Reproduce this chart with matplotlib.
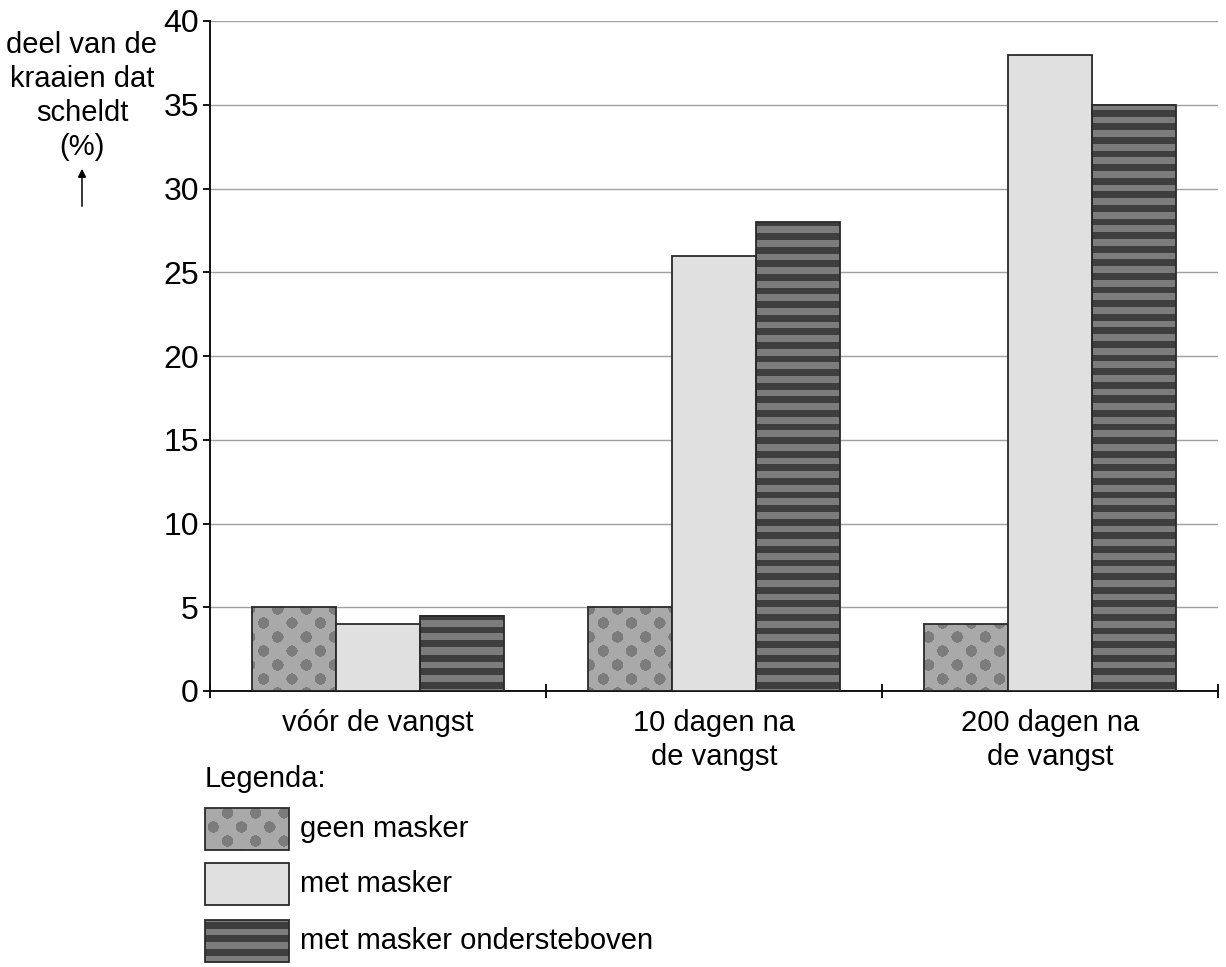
import numpy as np
import matplotlib
matplotlib.use("Agg")
import matplotlib.pyplot as plt
from matplotlib.patches import Rectangle, FancyArrowPatch

# ---------------- data ----------------
categories = ["vóór de vangst", "10 dagen na\nde vangst", "200 dagen na\nde vangst"]
series_names = ["geen masker", "met masker", "met masker ondersteboven"]
geen_masker = [5, 5, 4]
met_masker = [4, 26, 38]
ondersteboven = [4.5, 28, 35]
yticks = [0, 5, 10, 15, 20, 25, 30, 35, 40]
ylabel_text = "deel van de\nkraaien dat\nscheldt\n(%)"
legend_title = "Legenda:"

plt.rcParams['font.family'] = ['Liberation Sans', 'DejaVu Sans']

W, H, DPI = 1226, 967, 100
FS = 21
fig = plt.figure(figsize=(W / DPI, H / DPI), dpi=DPI)
ax = fig.add_axes([210 / W, 1 - 691 / H, (1218 - 210) / W, (691 - 21) / H])

ax.set_xlim(0, 3)
ax.set_ylim(0, 40)

EDGE = "#2a2a2a"
LIGHT = "#e0e0e0"
DOT_BG = np.array([0xa9, 0xa9, 0xa9]) / 255
DOT_FG = np.array([0x7c, 0x7c, 0x7c]) / 255
STR_D = np.array([0x3e, 0x3e, 0x3e]) / 255
STR_L = np.array([0x7c, 0x7c, 0x7c]) / 255


def dot_pattern(x0, y0, w, h):
    """pattern in global pixel coordinates (y from top)"""
    ys, xs = np.mgrid[y0:y0 + h, x0:x0 + w] + 0.5
    img = np.empty((h, w, 3))
    img[:] = DOT_BG
    sp = 28.3
    rs = 14.0
    row = np.floor((ys - 7) / rs + 0.5)
    cy = row * rs + 7
    off = np.where(row % 2 == 0, 0.0, sp / 2)
    cx = np.floor((xs - 9 - off) / sp + 0.5) * sp + 9 + off
    d = np.hypot(xs - cx, ys - cy)
    img[d <= 5.7] = DOT_FG
    return img


def stripe_pattern(x0, y0, w, h):
    ys = (np.arange(y0, y0 + h) + 0.5)
    period = 13.6
    ph = ((ys - 2) % period) < period / 2
    img = np.empty((h, w, 3))
    img[ph] = STR_D
    img[~ph] = STR_L
    return img


def pattern_bars(xs, vals, width, func):
    fig.canvas.draw()
    for x, v in zip(xs, vals):
        (px0, py0) = ax.transData.transform((x - width / 2, v))
        (px1, py1) = ax.transData.transform((x + width / 2, 0))
        gx0, gx1 = int(round(px0)), int(round(px1))
        gy0, gy1 = int(round(H - py0)), int(round(H - py1))
        img = func(gx0, gy0, max(gx1 - gx0, 1), max(gy1 - gy0, 1))
        ax.imshow(img, extent=(x - width / 2, x + width / 2, 0, v),
                  aspect='auto', interpolation='nearest', zorder=2)
    ax.set_xlim(0, 3)
    ax.set_ylim(0, 40)


centers = np.arange(len(categories)) + 0.5
bw = 0.25
x1 = centers - bw
x2 = centers
x3 = centers + bw

# grid
ax.set_yticks(yticks)
ax.yaxis.grid(True, color="#a0a0a0", linewidth=1.0, zorder=0)
ax.set_axisbelow(True)

pattern_bars(x1, geen_masker, bw, dot_pattern)
pattern_bars(x3, ondersteboven, bw, stripe_pattern)
ax.bar(x1, geen_masker, bw, facecolor='none', edgecolor=EDGE, linewidth=1.3, zorder=3)
ax.bar(x2, met_masker, bw, facecolor=LIGHT, edgecolor=EDGE, linewidth=1.3, zorder=3)
ax.bar(x3, ondersteboven, bw, facecolor='none', edgecolor=EDGE, linewidth=1.3, zorder=3)

for s in ["top", "right"]:
    ax.spines[s].set_visible(False)
for s in ["left", "bottom"]:
    ax.spines[s].set_linewidth(1.4)
    ax.spines[s].set_color("#111111")

ax.set_xticks([0, 1, 2, 3])
ax.set_xticklabels([])
ax.tick_params(axis='x', which='major', direction='inout', length=10, width=1.4, color="#111111")
ax.set_xticks(centers, minor=True)
ax.set_xticklabels(categories, minor=True, fontsize=FS, linespacing=1.25)
ax.tick_params(axis='x', which='minor', length=0, pad=13)
ax.tick_params(axis='y', direction='out', length=5, width=1.4, color="#111111",
               labelsize=23, pad=3)

# y label block
fig.text(82 / W, 1 - 96 / H, ylabel_text, ha='center', va='center', fontsize=FS,
         linespacing=1.27)
fig.add_artist(FancyArrowPatch(
    (82 / W, 1 - 209 / H), (82 / W, 1 - 166 / H), transform=fig.transFigure,
    arrowstyle='-|>', mutation_scale=12, color='black', linewidth=1.1))

# legend
fig.text(205 / W, 1 - 779 / H, legend_title, ha='left', va='center', fontsize=FS)
leg_y = [808, 863, 920]
for i, (name, yy) in enumerate(zip(series_names, leg_y)):
    gx0, gy0, w, h = 205, yy, 84, 42
    if i == 0:
        img = dot_pattern(gx0 + 8, gy0 + 6, w, h)
        fig.figimage(img, xo=gx0, yo=H - gy0 - h, origin='upper', zorder=2)
    elif i == 2:
        img = stripe_pattern(gx0, gy0 + 5, w, h)
        fig.figimage(img, xo=gx0, yo=H - gy0 - h, origin='upper', zorder=2)
    fig.add_artist(Rectangle((gx0 / W, 1 - (gy0 + h) / H), w / W, h / H,
                             transform=fig.transFigure,
                             facecolor=LIGHT if i == 1 else 'none',
                             edgecolor=EDGE, linewidth=1.3, zorder=3))
    fig.text(300 / W, 1 - (gy0 + h / 2) / H, name, ha='left', va='center', fontsize=FS)

fig.savefig("out.png", dpi=DPI)
